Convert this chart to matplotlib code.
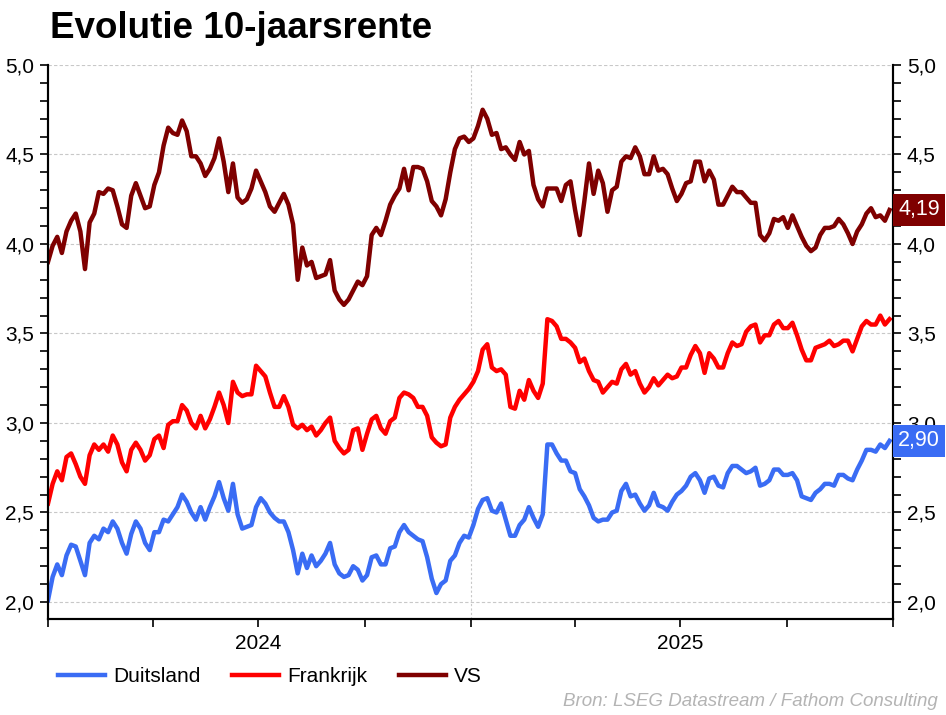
import matplotlib
matplotlib.use("Agg")
import matplotlib.pyplot as plt
import matplotlib.dates as mdates
from matplotlib.ticker import MultipleLocator, FuncFormatter, NullFormatter
import pandas as pd

plt.rcParams['font.family'] = ['Liberation Sans', 'DejaVu Sans']

# 10-jaarsrente, one reading every 4 days from 1 jan 2024
us = [3.90, 3.99, 4.04, 3.95, 4.07, 4.13, 4.17, 4.07, 3.86, 4.12,
      4.17, 4.29, 4.28, 4.31, 4.30, 4.21, 4.11, 4.09, 4.27, 4.34,
      4.27, 4.20, 4.21, 4.33, 4.40, 4.55, 4.65, 4.62, 4.61, 4.69,
      4.63, 4.49, 4.49, 4.45, 4.38, 4.42, 4.48, 4.59, 4.46, 4.29,
      4.45, 4.26, 4.23, 4.25, 4.31, 4.41, 4.35, 4.29, 4.21, 4.18,
      4.23, 4.28, 4.22, 4.11, 3.80, 3.98, 3.88, 3.90, 3.81, 3.82,
      3.83, 3.91, 3.74, 3.69, 3.66, 3.69, 3.74, 3.79, 3.77, 3.82,
      4.05, 4.09, 4.05, 4.13, 4.22, 4.27, 4.31, 4.42, 4.30, 4.43,
      4.43, 4.42, 4.35, 4.24, 4.21, 4.16, 4.25, 4.40, 4.53, 4.59,
      4.60, 4.57, 4.59, 4.66, 4.75, 4.70, 4.61, 4.62, 4.53, 4.54,
      4.50, 4.47, 4.57, 4.50, 4.52, 4.33, 4.25, 4.21, 4.31, 4.31,
      4.31, 4.24, 4.33, 4.35, 4.19, 4.05, 4.24, 4.45, 4.28, 4.41,
      4.34, 4.18, 4.30, 4.32, 4.46, 4.49, 4.48, 4.54, 4.49, 4.39,
      4.39, 4.49, 4.41, 4.42, 4.39, 4.31, 4.24, 4.28, 4.34, 4.35,
      4.46, 4.46, 4.35, 4.41, 4.36, 4.22, 4.22, 4.27, 4.32, 4.29,
      4.29, 4.26, 4.23, 4.23, 4.05, 4.02, 4.06, 4.14, 4.13, 4.15,
      4.09, 4.16, 4.10, 4.04, 3.99, 3.96, 3.98, 4.05, 4.09, 4.09,
      4.10, 4.14, 4.11, 4.06, 4.00, 4.07, 4.11, 4.17, 4.20, 4.15,
      4.16, 4.13, 4.19]

fr = [2.55, 2.66, 2.73, 2.68, 2.81, 2.83, 2.77, 2.70, 2.66, 2.82,
      2.88, 2.85, 2.88, 2.84, 2.93, 2.88, 2.78, 2.73, 2.85, 2.89,
      2.85, 2.79, 2.82, 2.91, 2.93, 2.86, 2.99, 3.01, 3.01, 3.10,
      3.07, 3.00, 2.97, 3.04, 2.97, 3.02, 3.09, 3.17, 3.10, 3.00,
      3.23, 3.17, 3.15, 3.16, 3.16, 3.32, 3.29, 3.26, 3.17, 3.09,
      3.09, 3.15, 3.09, 2.99, 2.97, 2.99, 2.96, 2.98, 2.93, 2.96,
      3.00, 3.03, 2.90, 2.86, 2.83, 2.85, 2.96, 2.97, 2.85, 2.94,
      3.02, 3.04, 2.97, 2.94, 3.01, 3.03, 3.14, 3.17, 3.16, 3.14,
      3.09, 3.09, 3.04, 2.92, 2.89, 2.87, 2.88, 3.03, 3.09, 3.13,
      3.16, 3.19, 3.23, 3.29, 3.41, 3.44, 3.31, 3.29, 3.30, 3.27,
      3.09, 3.08, 3.18, 3.13, 3.24, 3.18, 3.14, 3.22, 3.58, 3.57,
      3.54, 3.47, 3.47, 3.45, 3.42, 3.34, 3.36, 3.29, 3.24, 3.23,
      3.17, 3.20, 3.23, 3.22, 3.30, 3.33, 3.27, 3.29, 3.22, 3.17,
      3.20, 3.25, 3.21, 3.24, 3.27, 3.25, 3.26, 3.31, 3.31, 3.38,
      3.43, 3.39, 3.28, 3.39, 3.36, 3.31, 3.31, 3.39, 3.45, 3.43,
      3.44, 3.51, 3.54, 3.55, 3.45, 3.49, 3.49, 3.55, 3.57, 3.53,
      3.53, 3.56, 3.49, 3.41, 3.35, 3.35, 3.42, 3.43, 3.44, 3.46,
      3.43, 3.44, 3.46, 3.46, 3.40, 3.47, 3.54, 3.57, 3.55, 3.55,
      3.60, 3.55, 3.58]

de = [2.01, 2.14, 2.21, 2.15, 2.26, 2.32, 2.31, 2.23, 2.15, 2.33,
      2.37, 2.35, 2.41, 2.39, 2.45, 2.41, 2.33, 2.27, 2.38, 2.45,
      2.41, 2.33, 2.29, 2.39, 2.39, 2.46, 2.45, 2.49, 2.53, 2.60,
      2.56, 2.50, 2.46, 2.53, 2.46, 2.53, 2.59, 2.67, 2.58, 2.51,
      2.66, 2.49, 2.41, 2.42, 2.43, 2.53, 2.58, 2.55, 2.50, 2.47,
      2.45, 2.45, 2.39, 2.29, 2.16, 2.27, 2.19, 2.26, 2.20, 2.23,
      2.27, 2.33, 2.21, 2.16, 2.14, 2.15, 2.20, 2.18, 2.12, 2.15,
      2.25, 2.26, 2.21, 2.21, 2.30, 2.31, 2.39, 2.43, 2.39, 2.37,
      2.35, 2.34, 2.25, 2.13, 2.05, 2.10, 2.12, 2.23, 2.26, 2.33,
      2.37, 2.36, 2.43, 2.52, 2.57, 2.58, 2.51, 2.50, 2.55, 2.46,
      2.37, 2.37, 2.43, 2.46, 2.53, 2.47, 2.42, 2.49, 2.88, 2.88,
      2.83, 2.79, 2.79, 2.73, 2.72, 2.63, 2.59, 2.54, 2.47, 2.45,
      2.46, 2.46, 2.50, 2.51, 2.62, 2.66, 2.59, 2.60, 2.55, 2.51,
      2.54, 2.61, 2.54, 2.53, 2.51, 2.56, 2.60, 2.62, 2.65, 2.70,
      2.72, 2.68, 2.61, 2.69, 2.70, 2.65, 2.64, 2.72, 2.76, 2.76,
      2.74, 2.72, 2.73, 2.75, 2.65, 2.66, 2.68, 2.74, 2.74, 2.71,
      2.71, 2.72, 2.68, 2.59, 2.58, 2.57, 2.61, 2.63, 2.66, 2.66,
      2.65, 2.71, 2.71, 2.69, 2.68, 2.74, 2.79, 2.85, 2.85, 2.84,
      2.88, 2.86, 2.90]

dates = pd.date_range("2024-01-01", periods=len(us), freq="4D")

c_de = "#3a6cf4"
c_fr = "#ff0000"
c_us = "#7f0000"

fig = plt.figure(figsize=(9.46, 7.15), dpi=100)
ax = fig.add_axes([48/946, 96/715, 845/946, 554/715])

ax.plot(dates, de, color=c_de, lw=3.2, label="Duitsland", solid_joinstyle="round")
ax.plot(dates, fr, color=c_fr, lw=3.2, label="Frankrijk", solid_joinstyle="round")
ax.plot(dates, us, color=c_us, lw=3.2, label="VS", solid_joinstyle="round")

ax.set_xlim(pd.Timestamp("2024-01-01"), pd.Timestamp("2026-01-01"))
ax.set_ylim(1.905, 5.0)

fmt = FuncFormatter(lambda v, p: f"{v:.1f}".replace(".", ","))
ax2 = ax.twinx()
ax2.set_ylim(ax.get_ylim())
for a in (ax, ax2):
    a.yaxis.set_major_locator(MultipleLocator(0.5))
    a.yaxis.set_minor_locator(MultipleLocator(0.1))
    a.yaxis.set_major_formatter(fmt)
    a.tick_params(axis="y", which="both", direction="out", length=6, width=1.2,
                  labelsize=15, pad=4)
    a.spines["top"].set_visible(False)
    for s in ("left", "right", "bottom"):
        a.spines[s].set_linewidth(1.5)

ax.yaxis.grid(True, which="major", ls=(0, (3, 2)), color="#c8c8c8", lw=0.8)
for yr in ["2025-01-01", "2026-01-01"]:
    ax.axvline(pd.Timestamp(yr), ls=(0, (2, 2)), color="#c8c8c8", lw=0.8, zorder=0)

ax.xaxis.remove_overlapping_locs = False
ax.xaxis.set_major_locator(mdates.MonthLocator(bymonth=[1, 4, 7, 10]))
ax.xaxis.set_major_formatter(NullFormatter())
ax.xaxis.set_minor_locator(mdates.MonthLocator(bymonth=[7]))
ax.xaxis.set_minor_formatter(mdates.DateFormatter("%Y"))
ax.tick_params(axis="x", which="major", direction="out", length=6, width=1.2)
ax.tick_params(axis="x", which="minor", length=0, labelsize=15, pad=11)

# laatste waarde rechts
for vals, col in [(us, c_us), (de, c_de)]:
    ax2.text(1.006, vals[-1], f"{vals[-1]:.2f}".replace(".", ","),
             transform=ax2.get_yaxis_transform(), ha="left", va="center",
             color="white", fontsize=15.5, clip_on=False, zorder=5,
             bbox=dict(boxstyle="square,pad=0.25", fc=col, ec="none"))

fig.text(50/946, 1 - 38/715, "Evolutie 10-jaarsrente", fontsize=26.5,
         fontweight="bold", va="baseline", ha="left")

fig.legend(loc="center left", bbox_to_anchor=(50/946, 38/715), ncol=3,
           frameon=False, fontsize=15, handlelength=2.25, handletextpad=0.4,
           columnspacing=1.5, borderaxespad=0)

fig.text(938/946, 5/715, "Bron: LSEG Datastream / Fathom Consulting",
         ha="right", va="bottom", fontsize=13.5, style="italic", color="#b4b4b4")

fig.savefig("out.png", dpi=100)
